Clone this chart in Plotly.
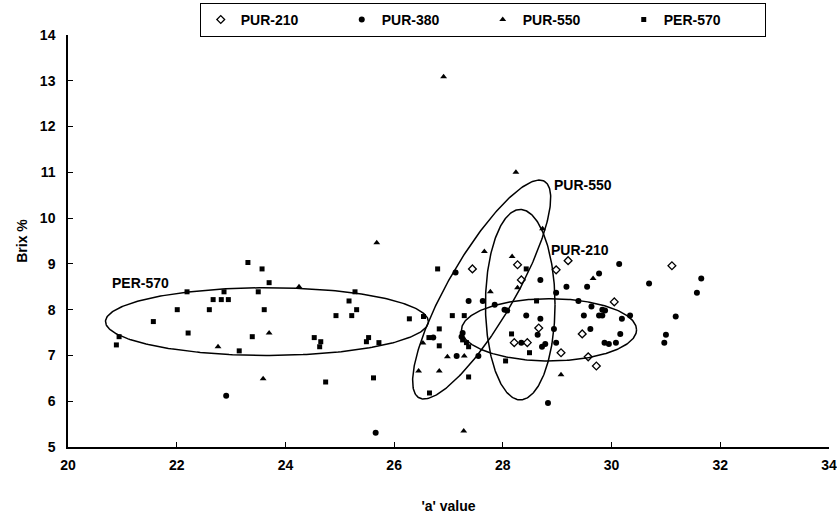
import numpy as np
import plotly.graph_objects as go

# ---- data ----
pur210_x = [27.44, 28.27, 28.34, 28.98, 29.20, 31.11, 30.05, 28.66, 28.21, 28.45, 29.07, 29.46, 29.57, 29.72]
pur210_y = [8.89, 8.98, 8.65, 8.87, 9.07, 8.96, 8.17, 7.60, 7.28, 7.28, 7.06, 7.47, 6.97, 6.77]

pur380_x = [27.13, 28.69, 29.77, 29.55, 29.17, 28.98, 27.63, 27.37, 27.85, 28.03, 28.08, 29.39, 29.63,
            29.83, 30.14, 30.69, 31.65, 31.57, 29.88, 29.49, 29.77, 29.83, 30.19, 30.34, 31.18, 28.43,
            28.69, 27.26, 27.24, 28.94, 28.64, 29.61, 30.16, 31.00, 28.34, 28.72, 28.78, 28.98, 29.87,
            29.95, 30.08, 30.97, 27.15, 27.55, 28.83, 22.91, 25.66, 26.72]
pur380_y = [8.81, 8.65, 8.79, 8.50, 8.50, 8.37, 8.19, 8.19, 8.11, 8.00, 7.98, 8.19, 8.07,
            8.00, 9.00, 8.57, 8.68, 8.37, 7.98, 7.87, 7.87, 7.87, 7.80, 7.87, 7.85, 7.87,
            7.80, 7.49, 7.41, 7.58, 7.45, 7.58, 7.47, 7.45, 7.28, 7.19, 7.25, 7.28, 7.28,
            7.25, 7.28, 7.28, 6.99, 6.99, 5.96, 6.12, 5.31, 7.39]

pur550_x = [26.91, 28.24, 28.73, 25.68, 27.66, 28.17, 28.27, 27.77, 29.66, 24.25, 23.70, 22.76,
            23.59, 26.53, 26.98, 27.29, 26.45, 26.83, 29.07, 27.28]
pur550_y = [13.09, 11.00, 9.77, 9.46, 9.27, 9.16, 8.48, 8.39, 8.68, 8.50, 7.49, 7.19,
            6.49, 7.27, 6.97, 6.99, 6.66, 6.66, 6.58, 5.35]

per570_x = [23.31, 23.57, 23.70, 22.19, 22.87, 23.50, 22.67, 22.82, 22.95, 22.01, 22.60, 23.61,
            21.57, 22.21, 23.39, 20.94, 20.89, 23.15, 25.28, 25.17, 25.31, 24.93, 25.22, 26.80,
            26.28, 26.54, 26.83, 24.53, 24.65, 24.63, 25.53, 25.49, 25.72, 24.74, 25.62, 26.65,
            27.07, 27.29, 28.62, 28.43, 26.64, 26.83, 27.26, 27.33, 27.37, 28.16, 28.49, 28.05, 27.37]
per570_y = [9.03, 8.89, 8.59, 8.39, 8.39, 8.39, 8.22, 8.22, 8.22, 8.00, 8.00, 8.00,
            7.74, 7.49, 7.41, 7.41, 7.23, 7.10, 8.39, 8.19, 8.00, 7.87, 7.87, 8.89,
            7.80, 7.85, 7.58, 7.39, 7.30, 7.19, 7.39, 7.30, 7.28, 6.42, 6.51, 6.18,
            7.87, 7.87, 8.19, 8.89, 7.39, 7.21, 7.34, 7.28, 7.19, 7.47, 7.06, 6.88, 6.53]

# ellipses: centre and two half-axis vectors (data units)
ell_names = ["PER-570", "PUR-210", "PUR-550", "PUR-380"]
ell_cx = [23.66, 28.32, 27.61, 28.85]
ell_cy = [7.74, 8.11, 8.44, 7.56]
ell_ux = [2.97, 0.64, 1.156, 1.61]
ell_uy = [0.0, 0.0, 2.363, 0.0]
ell_vx = [0.0, 0.0, 0.526, 0.0]
ell_vy = [0.74, 2.08, -0.366, 0.68]

label_text = ["PUR-550", "PUR-210", "PER-570"]
label_x = [28.91, 28.85, 20.78]
label_y = [10.73, 9.31, 8.59]

fig = go.Figure()

series = [
    ("PUR-210", pur210_x, pur210_y, "diamond-open", 6),
    ("PUR-380", pur380_x, pur380_y, "circle", 6),
    ("PUR-550", pur550_x, pur550_y, "triangle-up", 6),
    ("PER-570", per570_x, per570_y, "square", 5),
]
for name, xs, ys, sym, sz in series:
    fig.add_trace(go.Scatter(
        x=xs, y=ys, mode="markers", name=name,
        marker=dict(symbol=sym, size=sz, color="black",
                    line=dict(color="black", width=1.3 if "open" in sym else 0)),
    ))

t = np.linspace(0, 2 * np.pi, 300)
for i in range(len(ell_names)):
    ex = ell_cx[i] + ell_ux[i] * np.cos(t) + ell_vx[i] * np.sin(t)
    ey = ell_cy[i] + ell_uy[i] * np.cos(t) + ell_vy[i] * np.sin(t)
    fig.add_trace(go.Scatter(x=ex, y=ey, mode="lines", showlegend=False,
                             line=dict(color="black", width=1.5), hoverinfo="skip"))

bold = "bold"
for txt, lx, ly in zip(label_text, label_x, label_y):
    fig.add_annotation(x=lx, y=ly, text=txt, showarrow=False, xanchor="left",
                       yanchor="middle", font=dict(size=14, color="black", weight=bold))

font_family = "Liberation Sans, Arial, sans-serif"
fig.update_layout(
    width=837, height=518,
    margin=dict(l=68, r=8, t=35, b=71, autoexpand=False),
    paper_bgcolor="white", plot_bgcolor="white",
    font=dict(family=font_family, size=14, color="black"),
    showlegend=True,
    legend=dict(orientation="h", x=0.545, xanchor="center", y=1.078, yanchor="top",
                bordercolor="black", borderwidth=1, bgcolor="white",
                font=dict(size=14, weight=bold), entrywidth=96, entrywidthmode="pixels",
                itemwidth=30, tracegroupgap=0),
    xaxis=dict(range=[20, 34], dtick=2, showgrid=False, zeroline=False,
               showline=True, linecolor="black", linewidth=1.5,
               ticks="inside", ticklen=5, tickcolor="black", ticklabelstandoff=4,
               title=dict(text="'a' value", font=dict(size=14, weight=bold), standoff=30),
               tickfont=dict(size=14, weight=bold)),
    yaxis=dict(range=[5, 14], dtick=1, showgrid=False, zeroline=False,
               showline=True, linecolor="black", linewidth=1.5,
               ticks="inside", ticklen=5, tickcolor="black", ticklabelstandoff=8,
               title=dict(text="Brix %", font=dict(size=14, weight=bold), standoff=9),
               tickfont=dict(size=14, weight=bold)),
)

fig.write_html("out.html")
